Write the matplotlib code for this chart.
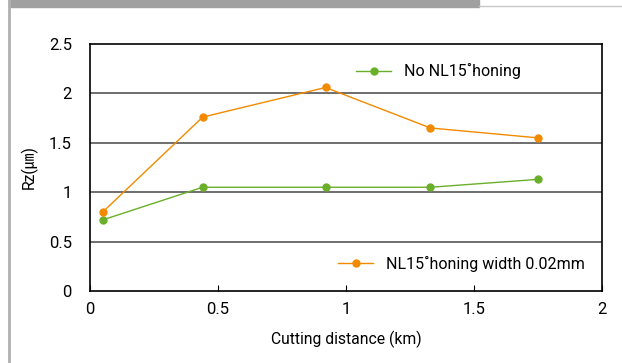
import matplotlib
matplotlib.use('Agg')
import matplotlib.pyplot as plt
from matplotlib.patches import Rectangle

# data
distance = [0.05, 0.44, 0.92, 1.33, 1.75]
rz_plain = [0.72, 1.05, 1.05, 1.05, 1.13]
rz_honed = [0.80, 1.76, 2.06, 1.65, 1.55]
label_plain = 'No NL15˚honing'
label_honed = 'NL15˚honing width 0.02mm'
xticks = [0, 0.5, 1, 1.5, 2]
yticks = [0, 0.5, 1, 1.5, 2, 2.5]

GREEN = '#6aaf2a'
ORANGE = '#f28a00'
plt.rcParams['font.family'] = ['Roboto', 'DejaVu Sans', 'Noto Sans CJK JP']

fig = plt.figure(figsize=(6.22, 3.63), dpi=100)

# frame decorations: grey banner at the top and grey left rule
fig.patches.append(Rectangle((9 / 622, 1 - 7 / 363), 470 / 622, 7 / 363,
                             transform=fig.transFigure, color='#a0a0a0', zorder=0))
fig.add_artist(plt.Line2D([479 / 622, 622 / 622], [1 - 6 / 363, 1 - 6 / 363],
                          transform=fig.transFigure, color='#c8c8c8', lw=1))
fig.add_artist(plt.Line2D([9 / 622, 9 / 622], [0, 1], transform=fig.transFigure,
                          color='#b0b0b0', lw=2))

ax = fig.add_axes([90 / 622, 72 / 363, 512 / 622, 247 / 363])

l1, = ax.plot(distance, rz_plain, color=GREEN, lw=1, marker='o', ms=5, label=label_plain)
l2, = ax.plot(distance, rz_honed, color=ORANGE, lw=1, marker='o', ms=5, label=label_honed)

ax.set_xlim(0, 2)
ax.set_ylim(0, 2.5)
ax.set_xticks(xticks)
ax.set_xticklabels([f'{t:g}' for t in xticks])
ax.set_yticks(yticks)
ax.set_yticklabels([f'{t:g}' for t in yticks])
ax.tick_params(axis='x', direction='in', length=4, pad=8, labelsize=12)
ax.tick_params(axis='y', length=0, pad=13, labelsize=12)

for y in yticks[1:-1]:
    ax.axhline(y, color='#555555', lw=1.2, zorder=0)
for s in ax.spines.values():
    s.set_color('black')
    s.set_linewidth(1.2)

ax.set_xlabel('Cutting distance (km)', fontsize=11.3, labelpad=10)
ax.set_ylabel('Rz(㎛)', fontsize=11.3, labelpad=8)

leg1 = ax.legend(handles=[l1], loc='upper right', bbox_to_anchor=(0.87, 0.98),
                 frameon=False, fontsize=11.5, handlelength=2.2)
ax.add_artist(leg1)
ax.legend(handles=[l2], loc='lower right', bbox_to_anchor=(0.995, 0.02),
          frameon=False, fontsize=11.5, handlelength=2.2)

plt.savefig('out.png', dpi=100)
